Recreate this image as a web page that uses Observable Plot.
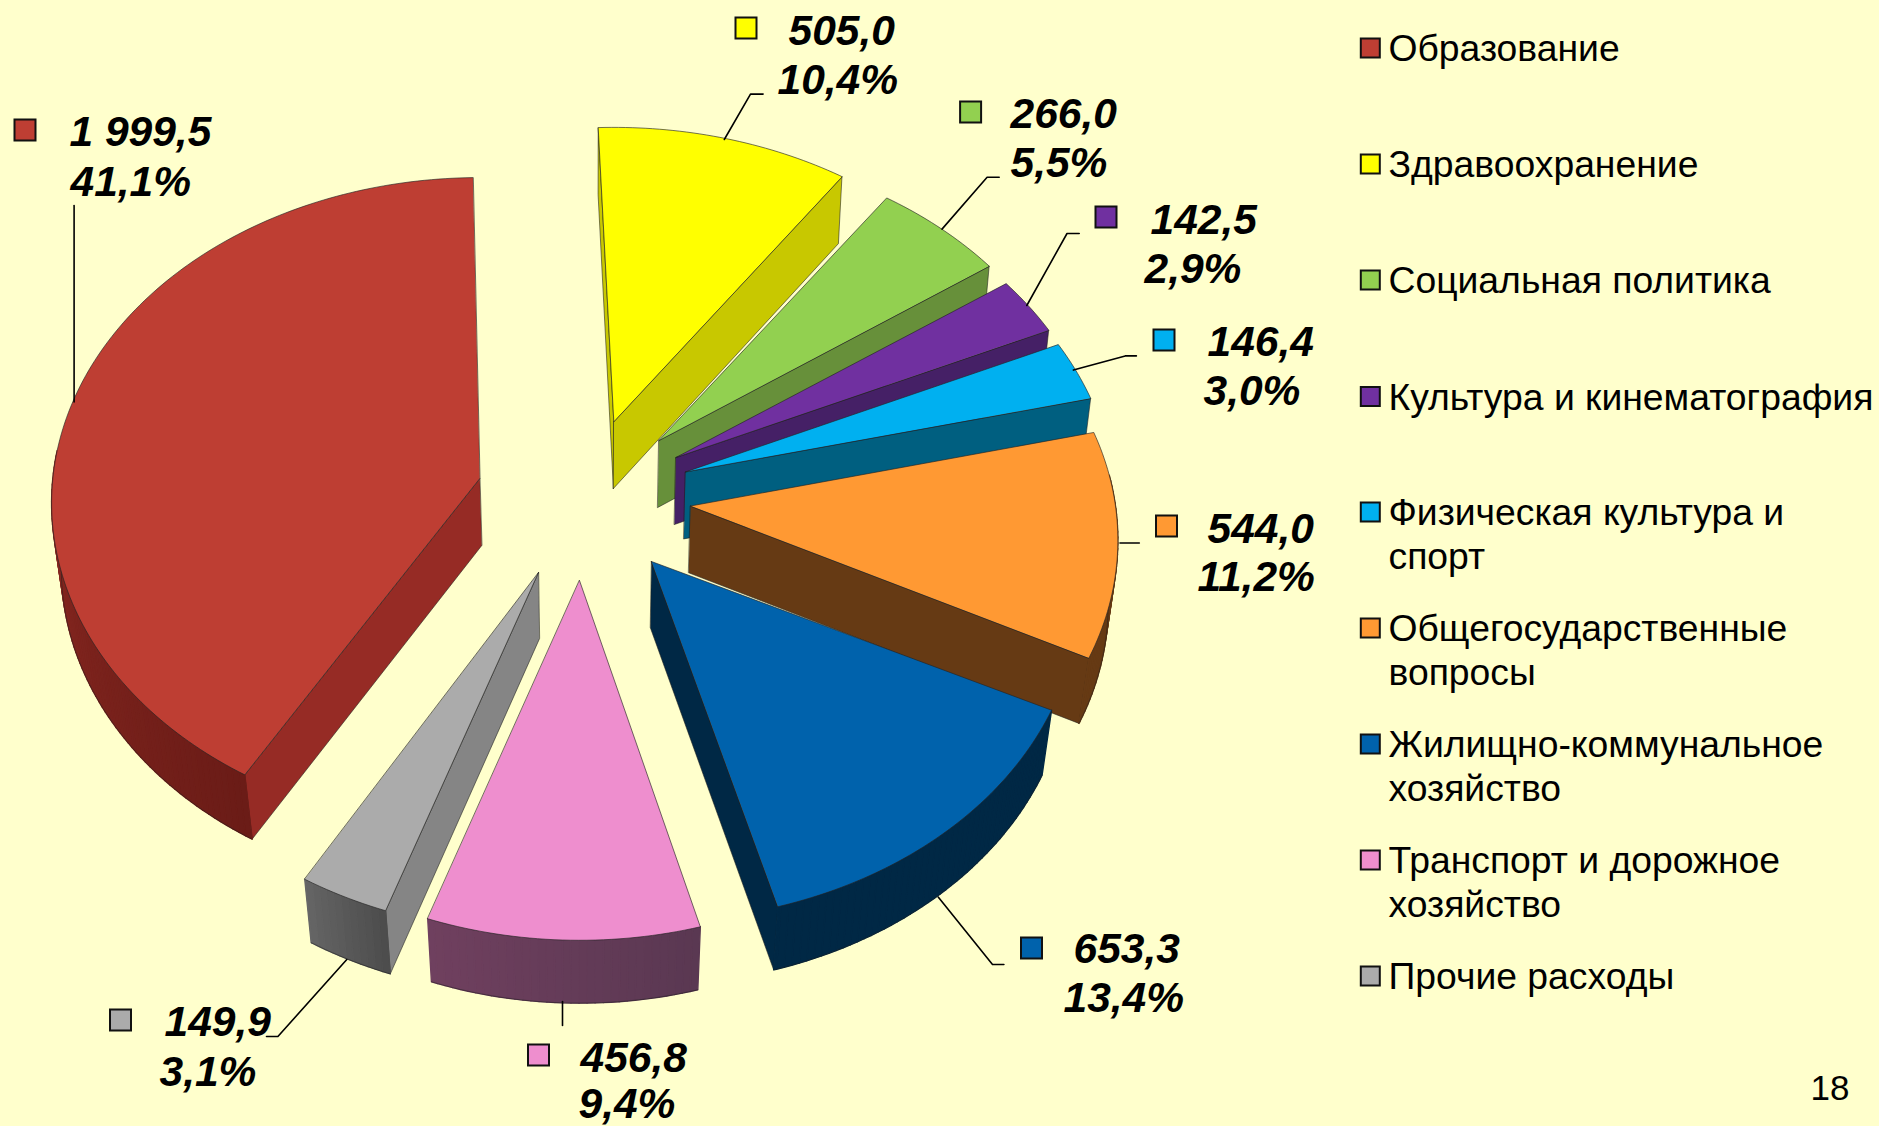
<!DOCTYPE html>
<html lang="ru">
<head>
<meta charset="utf-8">
<script src="https://cdn.jsdelivr.net/npm/d3@7"></script>
<script src="https://cdn.jsdelivr.net/npm/@observablehq/plot@0.6"></script>
<style>
html,body{margin:0;padding:0;background:#FFFFCC;overflow:hidden}
svg{display:block}
</style>
</head>
<body>
<div id="chart"></div>
<script>
// ---- data ----
const categories = ["Образование","Здравоохранение","Социальная политика","Культура и кинематография","Физическая культура и\nспорт","Общегосударственные\nвопросы","Жилищно-коммунальное\nхозяйство","Транспорт и дорожное\nхозяйство","Прочие расходы"];
const values = [1999.5,505.0,266.0,142.5,146.4,544.0,653.3,456.8,149.9];
const valueLabels = ["1 999,5","505,0","266,0","142,5","146,4","544,0","653,3","456,8","149,9"];
const percentLabels = ["41,1%","10,4%","5,5%","2,9%","3,0%","11,2%","13,4%","9,4%","3,1%"];
const pageNumber = "18";

// ---- styles ----
const topColors  = ["#BE3E33","#FFFF00","#92D050","#7030A0","#00B0F0","#FF9933","#0062AC","#EE8ECE","#ABABAB"];
const sideColors = ["#962B25","#C8C800","#67903A","#452066","#005F80","#663A14","#002845","#5A3852","#858585"];
const arcFrom    = ["#6B1C17","#C8C800","#67903A","#452066","#005F80","#663A14","#002845","#5A3852","#4D4D4D"];
const arcTo      = ["#B53A30","#C8C800","#67903A","#452066","#005F80","#663A14","#002845","#70405F","#666666"];

// ---- 3D pie layout: tip of each exploded slice, disc radii, perspective ----
const tips = [[479.3,478],[613.3,421],[658.4,440],[675.4,457],[685,471.4],[690,505.5],[651,561],[579,580],[538,572]];
const firstAngle = 210;
const radiiX = [427,431,427,427,427,425,425,422,425];
const radiiY = [323.5,325,323,322,322,322,322,322,322];
const perspectives = [0.075,0.105,0.105,0.105,0.105,0.105,0.105,0.105,0.105];
const angleNudge = [1,-0.3,0,0,0,0,-0.6,0,0];
const paintOrder = [1,2,3,4,5,6,7,8,0];

const total = d3.sum(values);
const rad = d => d * Math.PI / 180;
function rim(i, deg){
  const w = 1 + perspectives[i] * Math.cos(rad(deg));
  return [tips[i][0] + radiiX[i] * Math.sin(rad(deg)) / w, tips[i][1] - radiiY[i] * Math.cos(rad(deg)) / w];
}
function drop([x,y]){
  const s = 0.012 + y * 0.000012;
  return [x - (x - 590) * s, y + 67 - Math.max(0, y - 480) * 0.009];
}
const toRows = (id, pts, c) => pts.map(([x,y]) => ({id, x, y, c}));

const marks = [];
let cum = firstAngle;
const spans = values.map((v,i) => { const a0 = cum; cum += v / total * 360; return [a0 + angleNudge[i], cum + angleNudge[i]]; });

for (const i of paintOrder){
  const tip = tips[i], [a0,a1] = spans[i];
  const arcAngles = d3.range(0, Math.ceil(a1 - a0) + 1).map(k => Math.min(a0 + k, a1));
  const top = arcAngles.map(a => rim(i, a));
  const shade = d3.interpolateRgb(arcFrom[i], arcTo[i]);

  // radial walls: only the ones that face the viewer
  if (Math.sin(rad(a0)) < 0){
    const p = top[0], poly = [tip, p, drop(p), drop(tip)];
    marks.push(Plot.line(toRows(`${i}s`, poly), {x:"x", y:"y", fill:sideColors[i], stroke:"#1c1c1c", strokeWidth:0.7, strokeOpacity:0.8, curve:"linear-closed"}));
  }
  if (Math.sin(rad(a1)) > 0){
    const p = top[top.length-1], poly = [tip, p, drop(p), drop(tip)];
    marks.push(Plot.line(toRows(`${i}e`, poly), {x:"x", y:"y", fill:sideColors[i], stroke:"#1c1c1c", strokeWidth:0.7, strokeOpacity:0.8, curve:"linear-closed"}));
  }
  // outer wall, only where it faces the viewer, in shaded strips
  const front = arcAngles.filter(a => Math.cos(rad(a)) < 0.1);
  if (front.length > 1){
    const strips = [];
    for (let k = 0; k + 1 < front.length; k += 1){
      const p = rim(i, front[k]), q = rim(i, front[k+1]);
      strips.push(...toRows(`${i}a${k}`, [p, q, drop(q), drop(p)], shade((front[k] - a0) / (a1 - a0))));
    }
    marks.push(Plot.line(strips, {x:"x", y:"y", z:"id", fill:d=>d.c, stroke:d=>d.c, strokeWidth:1.4, curve:"linear-closed"}));
    const frontRim = front.map(a => rim(i, a));
    marks.push(Plot.line(toRows(`${i}o`, frontRim.map(drop)), {x:"x", y:"y", stroke:"#1c1c1c", strokeWidth:0.7, strokeOpacity:0.7}));
  }
  marks.push(Plot.line(toRows(`${i}t`, [tip, ...top]), {x:"x", y:"y", fill:topColors[i], stroke:"#222", strokeWidth:0.8, strokeOpacity:0.8, curve:"linear-closed"}));
}

// ---- data labels ----
const labelFirst  = [[69,145],[788,44],[1010,127],[1150,233],[1207,355],[1207,542],[1073,962.5],[580,1071],[164,1035]];
const labelSecond = [[70,195],[777,93],[1010,176],[1144,282],[1203,404],[1197,590],[1063,1011],[578,1117],[159,1085]];
const labelKeys   = [[25,130],[746,28],[970.6,112],[1106,217],[1164,340],[1166.5,526],[1031.5,948],[538.5,1055],[120.5,1020]];
const leaders = [
  [[73.6,205],[73.6,401.4]],
  [[762.6,93.6],[750,93.6],[723.8,139]],
  [[998.7,176.8],[986.6,176.8],[941.5,228.6]],
  [[1078.7,233],[1066.5,233],[1026.3,305]],
  [[1135.9,355.4],[1124.7,355.4],[1072.9,369.6]],
  [[1138.8,542.5],[1119.5,542.5]],
  [[1003.4,964],[992,964],[937.7,896.5]],
  [[562,1001],[562,1025]],
  [[266,1036],[277.4,1036],[346.3,959]]
];
const leaderRows = leaders.flatMap((pts,i) => toRows(i, pts));
marks.push(Plot.line(leaderRows, {x:"x", y:"y", z:"id", stroke:"#000", strokeWidth:1.6}));

const boldItalic = {fontFamily:"Liberation Sans, Arial, sans-serif", fontWeight:"bold", fontStyle:"italic", fontSize:42.5, fill:"#000", textAnchor:"start", lineAnchor:"bottom"};
const labelRows = values.flatMap((_,i) => [
  {t:valueLabels[i], x:labelFirst[i][0], y:labelFirst[i][1]},
  {t:percentLabels[i], x:labelSecond[i][0], y:labelSecond[i][1]}
]);
marks.push(Plot.text(labelRows, {x:"x", y:"y", text:"t", ...boldItalic}));

const keyRows = (cx, cy, half, c) => ({x1:cx-half, x2:cx+half, y1:cy-half, y2:cy+half, c});
marks.push(Plot.rect(labelKeys.map((k,i) => keyRows(k[0], k[1], 10.5, topColors[i])),
  {x1:"x1", x2:"x2", y1:"y1", y2:"y2", fill:d=>d.c, stroke:"#111", strokeWidth:2}));

// ---- legend ----
const legendX = 1370.3, legendTextX = 1388, legendYs = [48,164,280,396.5,512,628,744,860,976];
marks.push(Plot.rect(legendYs.map((y,i) => keyRows(legendX, y, 9.5, topColors[i])),
  {x1:"x1", x2:"x2", y1:"y1", y2:"y2", fill:d=>d.c, stroke:"#111", strokeWidth:2}));
const legendRows = categories.flatMap((c,i) => c.split("\n").map((t,j) => ({t, x:legendTextX, y:legendYs[i] + 12.5 + j*43.5})));
marks.push(Plot.text(legendRows, {x:"x", y:"y", text:"t", fontFamily:"Liberation Sans, Arial, sans-serif", fontSize:37.3, fill:"#000", textAnchor:"start", lineAnchor:"bottom"}));

marks.push(Plot.text([{t:pageNumber, x:1849, y:1099}], {x:"x", y:"y", text:"t", fontFamily:"Liberation Sans, Arial, sans-serif", fontSize:35, fill:"#000", textAnchor:"end", lineAnchor:"bottom"}));

const chart = Plot.plot({
  width:1879, height:1126, margin:0,
  x:{type:"linear", domain:[0,1879], range:[0,1879], axis:null},
  y:{type:"linear", domain:[0,1126], range:[0,1126], axis:null},
  color:{type:"identity"},
  style:{background:"transparent", overflow:"hidden"},
  marks
});
document.getElementById("chart").appendChild(chart);
</script>
</body>
</html>
